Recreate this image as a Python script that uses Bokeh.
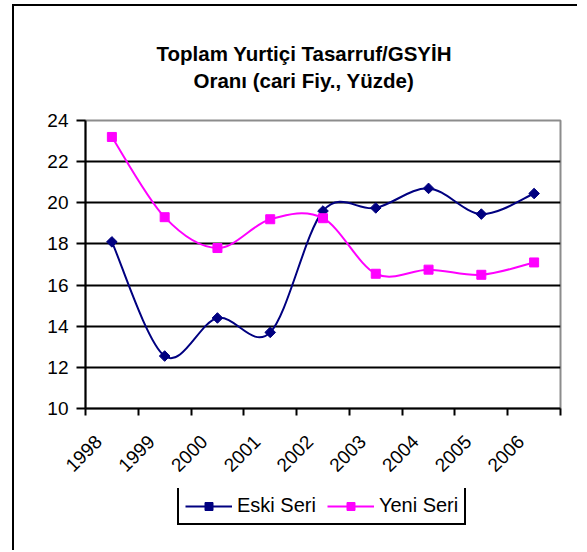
import math
from bokeh.plotting import figure
from bokeh.layouts import column
from bokeh.models import (Range1d, FixedTicker, Legend, LegendItem, Title,
                          ColumnDataSource)
from bokeh.embed import file_html
from bokeh.resources import INLINE

# ---- data ----
years = ["1998", "1999", "2000", "2001", "2002", "2003", "2004", "2005", "2006"]
eski_seri = [18.1, 12.55, 14.4, 13.7, 19.6, 19.75, 20.7, 19.45, 20.45]
yeni_seri = [23.2, 19.3, 17.8, 19.2, 19.25, 16.55, 16.75, 16.5, 17.1]
y_ticks = [10, 12, 14, 16, 18, 20, 22, 24]
title_line1 = "Toplam Yurtiçi Tasarruf/GSYİH"
title_line2 = "Oranı (cari Fiy., Yüzde)"
series_names = ["Eski Seri", "Yeni Seri"]

FONT = "Liberation Sans"
NAVY = "#000080"
MAGENTA = "#FF00FF"

n = len(years)
xs = [i + 0.5 for i in range(n)]


def smooth_segments(x, y):
    """Bezier control points (Catmull-Rom style, like Excel smoothed lines)."""
    d = dict(x0=[], y0=[], x1=[], y1=[], cx0=[], cy0=[], cx1=[], cy1=[])
    m = len(x)
    for i in range(m - 1):
        xp, yp = (x[i - 1], y[i - 1]) if i > 0 else (x[i], y[i])
        xn, yn = (x[i + 2], y[i + 2]) if i + 2 < m else (x[i + 1], y[i + 1])
        d["x0"].append(x[i]); d["y0"].append(y[i])
        d["x1"].append(x[i + 1]); d["y1"].append(y[i + 1])
        d["cx0"].append(x[i] + (x[i + 1] - xp) / 6.0)
        d["cy0"].append(y[i] + (y[i + 1] - yp) / 6.0)
        d["cx1"].append(x[i + 1] - (xn - x[i]) / 6.0)
        d["cy1"].append(y[i + 1] - (yn - y[i]) / 6.0)
    return ColumnDataSource(d)


src_e = smooth_segments(xs, eski_seri)
src_y = smooth_segments(xs, yeni_seri)
pts_e = ColumnDataSource(dict(x=xs, y=eski_seri))
pts_y = ColumnDataSource(dict(x=xs, y=yeni_seri))


def draw_series(fig):
    le = fig.bezier(x0="x0", y0="y0", x1="x1", y1="y1", cx0="cx0", cy0="cy0",
                    cx1="cx1", cy1="cy1", source=src_e, line_color=NAVY,
                    line_width=2)
    ly = fig.bezier(x0="x0", y0="y0", x1="x1", y1="y1", cx0="cx0", cy0="cy0",
                    cx1="cx1", cy1="cy1", source=src_y, line_color=MAGENTA,
                    line_width=2)
    me = fig.scatter("x", "y", source=pts_e, marker="square",
                     angle=math.pi / 4, size=7.5,
                     fill_color=NAVY, line_color=NAVY)
    my = fig.scatter("x", "y", source=pts_y, marker="square", size=9,
                     fill_color=MAGENTA, line_color=MAGENTA)
    return le, ly, me, my


# ---------------- main chart ----------------
p = figure(width=565, height=482,
           x_range=Range1d(0, n), y_range=Range1d(10, 24),
           output_backend="svg", toolbar_location=None, title=None,
           min_border_left=71, min_border_right=19, min_border_top=114,
           min_border_bottom=80)
p.background_fill_color = "white"
p.border_fill_color = "white"
p.outline_line_color = "#8c8c8c"
p.outline_line_width = 2

# titles: an empty spacer nearest the plot, then line 2, then line 1
spacer = Title(text=" ", text_font_size="1px", standoff=25)
t2 = Title(text=title_line2, align="left", offset=108, text_font=FONT,
           text_font_size="20.5px", text_font_style="bold", text_color="black",
           standoff=2)
t1 = Title(text=title_line1, align="left", offset=71, text_font=FONT,
           text_font_size="20.5px", text_font_style="bold", text_color="black",
           standoff=2)
p.add_layout(spacer, "above")
p.add_layout(t2, "above")
p.add_layout(t1, "above")

p.xgrid.visible = False
p.ygrid.ticker = FixedTicker(ticks=y_ticks[1:-1])
p.ygrid.grid_line_color = "black"
p.ygrid.grid_line_width = 2

ya = p.yaxis[0]
ya.ticker = FixedTicker(ticks=y_ticks)
ya.axis_line_width = 2
ya.major_tick_line_width = 2
ya.major_tick_out = 9
ya.major_tick_in = 0
ya.minor_tick_line_color = None
ya.major_label_text_font = FONT
ya.major_label_text_font_size = "19px"
ya.major_label_text_color = "black"
ya.major_label_standoff = 8

label_pos = [i + 0.25 for i in range(n)]
xa = p.xaxis[0]
xa.ticker = FixedTicker(ticks=label_pos, minor_ticks=list(range(n + 1)))
xa.major_label_overrides = {pos: yr for pos, yr in zip(label_pos, years)}
xa.axis_line_width = 2
xa.major_tick_line_color = None
xa.major_tick_out = 7
xa.major_tick_in = 0
xa.minor_tick_line_color = "black"
xa.minor_tick_line_width = 2
xa.minor_tick_out = 7
xa.minor_tick_in = 0
xa.major_label_orientation = math.pi / 4
xa.major_label_text_font = FONT
xa.major_label_text_font_size = "19px"
xa.major_label_text_color = "black"
xa.major_label_standoff = 23

draw_series(p)

# ---------------- legend strip ----------------
q = figure(width=565, height=64, x_range=Range1d(100, 101),
           y_range=Range1d(100, 101), output_backend="svg",
           toolbar_location=None, title=None,
           x_axis_location=None, y_axis_location=None,
           min_border_left=0, min_border_right=0, min_border_top=0,
           min_border_bottom=0)
q.grid.visible = False
q.outline_line_color = None
q.background_fill_color = "white"
q.border_fill_color = "white"
qe, qy, qme, qmy = draw_series(q)

legend = Legend(items=[LegendItem(label=series_names[0], renderers=[qe, qme]),
                       LegendItem(label=series_names[1], renderers=[qy, qmy])],
                orientation="horizontal", location=(92, 27),
                label_text_font=FONT, label_text_font_size="20px",
                label_text_color="black",
                border_line_color="black", border_line_width=2,
                border_line_alpha=1.0,
                glyph_width=47, glyph_height=20, label_standoff=5,
                spacing=11, padding=6, margin=0,
                background_fill_color="white", background_fill_alpha=1)
q.add_layout(legend, "center")

layout = column(p, q, spacing=0,
                styles={"margin-left": "14px", "margin-top": "6px",
                        "box-shadow": "-2px -2px 0px 0px black"})

open("out.html", "w").write(file_html(layout, INLINE))
